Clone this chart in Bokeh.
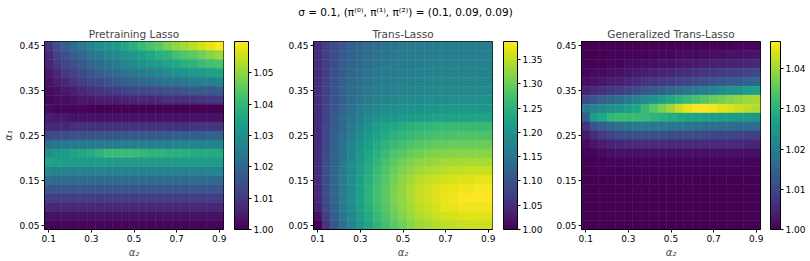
from bokeh.plotting import figure
from bokeh.layouts import row, column
from bokeh.models import (ColumnDataSource, LinearColorMapper, ColorBar, FixedTicker,
                          PrintfTickFormatter, Label)
from bokeh.transform import transform
from bokeh.palettes import Viridis256
from bokeh.embed import file_html
from bokeh.resources import INLINE

FONT = "DejaVu Sans"

# ---------------- data ----------------
ALPHA2 = [0.10, 0.14, 0.18, 0.22, 0.26, 0.30, 0.34, 0.38, 0.42, 0.46, 0.50,
          0.54, 0.58, 0.62, 0.66, 0.70, 0.74, 0.78, 0.82, 0.86, 0.90]
# rows listed from top (alpha1 = 0.45) to bottom (alpha1 = 0.05)
ALPHA1 = [0.45, 0.43, 0.41, 0.39, 0.37, 0.35, 0.33, 0.31, 0.29, 0.27, 0.25,
          0.23, 0.21, 0.19, 0.17, 0.15, 0.13, 0.11, 0.09, 0.07, 0.05]

XTICKS = [0.1, 0.3, 0.5, 0.7, 0.9]
XTICK_LABELS = ["0.1", "0.3", "0.5", "0.7", "0.9"]
YTICKS = [0.05, 0.15, 0.25, 0.35, 0.45]
YTICK_LABELS = ["0.05", "0.15", "0.25", "0.35", "0.45"]

SUPTITLE = "σ = 0.1, (π⁽⁰⁾, π⁽¹⁾, π⁽²⁾) = (0.1, 0.09, 0.09)"
TITLES = ["Pretraining Lasso", "Trans-Lasso", "Generalized Trans-Lasso"]
XLABEL = "α₂"
YLABEL = "α₁"

PRETRAIN = [
    [1.009, 1.015, 1.018, 1.021, 1.024, 1.027, 1.030, 1.031, 1.033, 1.036, 1.038, 1.041, 1.043, 1.045, 1.048, 1.050, 1.052, 1.054, 1.056, 1.058, 1.060],
    [1.007, 1.012, 1.015, 1.018, 1.020, 1.023, 1.025, 1.027, 1.029, 1.030, 1.032, 1.034, 1.036, 1.038, 1.039, 1.042, 1.044, 1.045, 1.047, 1.049, 1.051],
    [1.006, 1.010, 1.013, 1.015, 1.017, 1.020, 1.021, 1.023, 1.025, 1.027, 1.029, 1.030, 1.032, 1.033, 1.035, 1.036, 1.038, 1.039, 1.041, 1.042, 1.043],
    [1.004, 1.007, 1.010, 1.012, 1.014, 1.016, 1.018, 1.020, 1.021, 1.023, 1.024, 1.025, 1.026, 1.027, 1.029, 1.030, 1.031, 1.032, 1.033, 1.034, 1.035],
    [1.003, 1.005, 1.007, 1.009, 1.011, 1.013, 1.014, 1.015, 1.017, 1.018, 1.019, 1.020, 1.021, 1.022, 1.023, 1.023, 1.024, 1.025, 1.026, 1.026, 1.027],
    [1.002, 1.003, 1.004, 1.005, 1.007, 1.008, 1.009, 1.010, 1.011, 1.012, 1.013, 1.013, 1.014, 1.014, 1.015, 1.015, 1.016, 1.017, 1.017, 1.017, 1.018],
    [1.001, 1.002, 1.002, 1.003, 1.004, 1.004, 1.005, 1.005, 1.005, 1.006, 1.007, 1.007, 1.007, 1.007, 1.008, 1.008, 1.008, 1.008, 1.009, 1.009, 1.010],
    [1.002, 1.001, 1.001, 1.001, 1.001, 1.000, 1.000, 1.000, 1.000, 1.000, 1.000, 1.000, 1.000, 1.000, 1.000, 1.000, 1.000, 1.000, 1.000, 1.000, 1.000],
    [1.005, 1.004, 1.004, 1.003, 1.003, 1.003, 1.003, 1.003, 1.003, 1.003, 1.003, 1.003, 1.003, 1.003, 1.003, 1.003, 1.003, 1.003, 1.003, 1.003, 1.003],
    [1.007, 1.007, 1.007, 1.008, 1.008, 1.008, 1.008, 1.008, 1.008, 1.008, 1.008, 1.008, 1.008, 1.008, 1.008, 1.008, 1.008, 1.009, 1.009, 1.009, 1.009],
    [1.013, 1.014, 1.014, 1.015, 1.015, 1.015, 1.016, 1.016, 1.016, 1.016, 1.017, 1.017, 1.017, 1.017, 1.017, 1.018, 1.018, 1.018, 1.018, 1.019, 1.019],
    [1.022, 1.023, 1.024, 1.024, 1.025, 1.025, 1.025, 1.025, 1.025, 1.026, 1.026, 1.026, 1.026, 1.026, 1.026, 1.027, 1.027, 1.027, 1.027, 1.027, 1.027],
    [1.030, 1.032, 1.033, 1.035, 1.036, 1.037, 1.039, 1.041, 1.041, 1.041, 1.041, 1.040, 1.039, 1.039, 1.038, 1.038, 1.038, 1.037, 1.037, 1.037, 1.037],
    [1.035, 1.034, 1.033, 1.033, 1.033, 1.033, 1.033, 1.033, 1.033, 1.033, 1.033, 1.033, 1.033, 1.033, 1.033, 1.033, 1.033, 1.033, 1.033, 1.033, 1.033],
    [1.028, 1.027, 1.027, 1.027, 1.027, 1.027, 1.027, 1.027, 1.027, 1.027, 1.027, 1.027, 1.027, 1.027, 1.027, 1.027, 1.027, 1.027, 1.027, 1.027, 1.027],
    [1.022, 1.021, 1.021, 1.021, 1.021, 1.021, 1.021, 1.021, 1.021, 1.021, 1.021, 1.021, 1.021, 1.021, 1.021, 1.021, 1.021, 1.021, 1.021, 1.021, 1.021],
    [1.016, 1.016, 1.016, 1.016, 1.016, 1.016, 1.016, 1.016, 1.016, 1.016, 1.016, 1.016, 1.016, 1.016, 1.016, 1.016, 1.016, 1.016, 1.016, 1.016, 1.016],
    [1.011, 1.011, 1.011, 1.011, 1.011, 1.011, 1.011, 1.011, 1.011, 1.011, 1.011, 1.011, 1.011, 1.011, 1.011, 1.011, 1.011, 1.011, 1.011, 1.011, 1.011],
    [1.007, 1.007, 1.007, 1.007, 1.007, 1.007, 1.007, 1.007, 1.007, 1.007, 1.007, 1.007, 1.007, 1.007, 1.007, 1.007, 1.007, 1.007, 1.007, 1.007, 1.007],
    [1.003, 1.003, 1.003, 1.003, 1.003, 1.003, 1.003, 1.003, 1.003, 1.003, 1.003, 1.003, 1.003, 1.003, 1.003, 1.003, 1.003, 1.003, 1.003, 1.003, 1.003],
    [1.001, 1.001, 1.001, 1.001, 1.001, 1.001, 1.001, 1.001, 1.001, 1.001, 1.001, 1.001, 1.001, 1.001, 1.001, 1.001, 1.001, 1.001, 1.001, 1.001, 1.001],
]

TRANS = [
    [1.050, 1.070, 1.089, 1.104, 1.116, 1.128, 1.135, 1.143, 1.147, 1.151, 1.155, 1.155, 1.159, 1.159, 1.163, 1.163, 1.163, 1.163, 1.163, 1.163, 1.163],
    [1.050, 1.074, 1.093, 1.108, 1.120, 1.132, 1.139, 1.147, 1.151, 1.155, 1.159, 1.159, 1.163, 1.163, 1.166, 1.166, 1.166, 1.166, 1.166, 1.166, 1.166],
    [1.050, 1.074, 1.093, 1.112, 1.124, 1.135, 1.143, 1.151, 1.155, 1.159, 1.163, 1.163, 1.166, 1.166, 1.170, 1.170, 1.170, 1.170, 1.170, 1.170, 1.170],
    [1.050, 1.074, 1.097, 1.112, 1.128, 1.139, 1.147, 1.155, 1.159, 1.163, 1.166, 1.166, 1.170, 1.170, 1.174, 1.174, 1.174, 1.174, 1.174, 1.174, 1.174],
    [1.050, 1.077, 1.097, 1.116, 1.132, 1.143, 1.151, 1.159, 1.163, 1.166, 1.170, 1.170, 1.174, 1.174, 1.178, 1.178, 1.178, 1.178, 1.178, 1.178, 1.178],
    [1.050, 1.077, 1.101, 1.120, 1.135, 1.147, 1.155, 1.163, 1.166, 1.170, 1.174, 1.178, 1.178, 1.182, 1.182, 1.182, 1.182, 1.182, 1.182, 1.182, 1.182],
    [1.050, 1.077, 1.101, 1.120, 1.139, 1.151, 1.163, 1.170, 1.174, 1.178, 1.182, 1.186, 1.186, 1.190, 1.190, 1.190, 1.194, 1.194, 1.194, 1.194, 1.194],
    [1.050, 1.081, 1.104, 1.124, 1.143, 1.159, 1.170, 1.178, 1.186, 1.190, 1.194, 1.197, 1.197, 1.201, 1.201, 1.201, 1.205, 1.205, 1.205, 1.205, 1.205],
    [1.050, 1.081, 1.108, 1.132, 1.151, 1.166, 1.182, 1.194, 1.201, 1.205, 1.209, 1.213, 1.217, 1.217, 1.221, 1.221, 1.221, 1.224, 1.224, 1.224, 1.224],
    [1.050, 1.085, 1.112, 1.135, 1.159, 1.178, 1.197, 1.213, 1.224, 1.232, 1.240, 1.248, 1.252, 1.255, 1.259, 1.259, 1.263, 1.263, 1.263, 1.263, 1.263],
    [1.050, 1.085, 1.116, 1.143, 1.166, 1.190, 1.209, 1.224, 1.236, 1.248, 1.255, 1.263, 1.267, 1.271, 1.275, 1.275, 1.279, 1.279, 1.279, 1.279, 1.279],
    [1.050, 1.089, 1.120, 1.147, 1.174, 1.197, 1.217, 1.236, 1.252, 1.263, 1.271, 1.279, 1.286, 1.290, 1.294, 1.294, 1.298, 1.298, 1.298, 1.298, 1.298],
    [1.050, 1.089, 1.124, 1.151, 1.178, 1.205, 1.228, 1.248, 1.263, 1.279, 1.286, 1.298, 1.302, 1.310, 1.313, 1.313, 1.317, 1.317, 1.317, 1.317, 1.317],
    [1.050, 1.093, 1.124, 1.155, 1.182, 1.209, 1.236, 1.255, 1.275, 1.290, 1.302, 1.313, 1.321, 1.325, 1.329, 1.333, 1.333, 1.337, 1.337, 1.337, 1.337],
    [1.050, 1.093, 1.128, 1.159, 1.186, 1.213, 1.240, 1.263, 1.283, 1.298, 1.313, 1.325, 1.333, 1.341, 1.344, 1.348, 1.352, 1.352, 1.356, 1.356, 1.356],
    [1.050, 1.093, 1.128, 1.159, 1.190, 1.217, 1.244, 1.267, 1.286, 1.306, 1.321, 1.333, 1.344, 1.352, 1.356, 1.360, 1.364, 1.368, 1.368, 1.372, 1.372],
    [1.046, 1.093, 1.128, 1.163, 1.190, 1.221, 1.248, 1.271, 1.290, 1.310, 1.325, 1.341, 1.352, 1.360, 1.368, 1.372, 1.375, 1.379, 1.379, 1.383, 1.383],
    [1.046, 1.089, 1.128, 1.163, 1.190, 1.221, 1.248, 1.271, 1.290, 1.310, 1.325, 1.341, 1.352, 1.360, 1.368, 1.375, 1.379, 1.383, 1.387, 1.387, 1.387],
    [1.039, 1.085, 1.124, 1.159, 1.186, 1.217, 1.244, 1.267, 1.286, 1.306, 1.321, 1.337, 1.348, 1.356, 1.364, 1.372, 1.375, 1.379, 1.379, 1.379, 1.379],
    [1.019, 1.074, 1.116, 1.151, 1.182, 1.209, 1.236, 1.259, 1.279, 1.298, 1.313, 1.329, 1.341, 1.348, 1.356, 1.360, 1.364, 1.368, 1.368, 1.368, 1.368],
    [1.000, 1.058, 1.104, 1.143, 1.174, 1.201, 1.228, 1.252, 1.271, 1.286, 1.302, 1.317, 1.329, 1.337, 1.344, 1.348, 1.352, 1.352, 1.356, 1.356, 1.356],
]

GENTRANS = [
    [1.0000, 1.0000, 1.0000, 1.0000, 1.0000, 1.0000, 1.0000, 1.0000, 1.0000, 1.0000, 1.0000, 1.0000, 1.0000, 1.0005, 1.0005, 1.0005, 1.0005, 1.0005, 1.0009, 1.0009, 1.0009],
    [1.0000, 1.0000, 1.0000, 1.0005, 1.0005, 1.0005, 1.0005, 1.0005, 1.0009, 1.0009, 1.0009, 1.0014, 1.0014, 1.0014, 1.0019, 1.0019, 1.0019, 1.0023, 1.0023, 1.0023, 1.0028],
    [1.0005, 1.0005, 1.0005, 1.0009, 1.0009, 1.0014, 1.0014, 1.0019, 1.0019, 1.0023, 1.0023, 1.0028, 1.0033, 1.0033, 1.0037, 1.0042, 1.0042, 1.0047, 1.0047, 1.0051, 1.0056],
    [1.0009, 1.0014, 1.0014, 1.0019, 1.0023, 1.0028, 1.0033, 1.0037, 1.0042, 1.0047, 1.0051, 1.0056, 1.0061, 1.0066, 1.0070, 1.0075, 1.0080, 1.0084, 1.0089, 1.0094, 1.0103],
    [1.0019, 1.0023, 1.0028, 1.0037, 1.0042, 1.0051, 1.0056, 1.0066, 1.0070, 1.0080, 1.0084, 1.0094, 1.0098, 1.0108, 1.0112, 1.0117, 1.0126, 1.0131, 1.0136, 1.0145, 1.0154],
    [1.0047, 1.0056, 1.0066, 1.0075, 1.0084, 1.0098, 1.0108, 1.0122, 1.0131, 1.0145, 1.0154, 1.0168, 1.0178, 1.0192, 1.0201, 1.0211, 1.0225, 1.0234, 1.0243, 1.0257, 1.0267],
    [1.0103, 1.0126, 1.0145, 1.0159, 1.0173, 1.0187, 1.0206, 1.0220, 1.0239, 1.0257, 1.0281, 1.0300, 1.0318, 1.0332, 1.0346, 1.0360, 1.0370, 1.0379, 1.0388, 1.0398, 1.0407],
    [1.0192, 1.0206, 1.0220, 1.0234, 1.0248, 1.0262, 1.0281, 1.0318, 1.0346, 1.0374, 1.0402, 1.0431, 1.0454, 1.0468, 1.0468, 1.0459, 1.0449, 1.0440, 1.0431, 1.0421, 1.0412],
    [1.0140, 1.0257, 1.0281, 1.0309, 1.0318, 1.0318, 1.0318, 1.0314, 1.0304, 1.0295, 1.0290, 1.0281, 1.0276, 1.0271, 1.0267, 1.0262, 1.0257, 1.0257, 1.0253, 1.0253, 1.0248],
    [1.0066, 1.0117, 1.0140, 1.0159, 1.0173, 1.0183, 1.0187, 1.0187, 1.0187, 1.0187, 1.0183, 1.0183, 1.0178, 1.0178, 1.0173, 1.0173, 1.0168, 1.0168, 1.0164, 1.0164, 1.0164],
    [1.0033, 1.0056, 1.0080, 1.0094, 1.0103, 1.0112, 1.0112, 1.0112, 1.0112, 1.0112, 1.0108, 1.0108, 1.0108, 1.0103, 1.0103, 1.0098, 1.0098, 1.0094, 1.0094, 1.0089, 1.0089],
    [1.0014, 1.0028, 1.0037, 1.0047, 1.0051, 1.0056, 1.0056, 1.0056, 1.0056, 1.0056, 1.0056, 1.0056, 1.0056, 1.0056, 1.0056, 1.0056, 1.0056, 1.0056, 1.0056, 1.0051, 1.0051],
    [1.0005, 1.0009, 1.0014, 1.0019, 1.0023, 1.0023, 1.0023, 1.0023, 1.0023, 1.0023, 1.0023, 1.0023, 1.0023, 1.0023, 1.0023, 1.0023, 1.0023, 1.0023, 1.0019, 1.0019, 1.0019],
    [1.0000, 1.0005, 1.0005, 1.0009, 1.0009, 1.0009, 1.0009, 1.0009, 1.0009, 1.0009, 1.0009, 1.0009, 1.0009, 1.0009, 1.0009, 1.0009, 1.0009, 1.0009, 1.0009, 1.0009, 1.0009],
    [1.0000, 1.0000, 1.0005, 1.0005, 1.0005, 1.0005, 1.0005, 1.0005, 1.0005, 1.0005, 1.0005, 1.0005, 1.0005, 1.0005, 1.0005, 1.0005, 1.0005, 1.0005, 1.0005, 1.0005, 1.0005],
    [1.0000, 1.0000, 1.0000, 1.0000, 1.0000, 1.0000, 1.0000, 1.0000, 1.0000, 1.0000, 1.0000, 1.0000, 1.0000, 1.0000, 1.0000, 1.0000, 1.0000, 1.0000, 1.0000, 1.0000, 1.0000],
    [1.0000, 1.0000, 1.0000, 1.0000, 1.0000, 1.0000, 1.0000, 1.0000, 1.0000, 1.0000, 1.0000, 1.0000, 1.0000, 1.0000, 1.0000, 1.0000, 1.0000, 1.0000, 1.0000, 1.0000, 1.0000],
    [1.0000, 1.0000, 1.0000, 1.0000, 1.0000, 1.0000, 1.0000, 1.0000, 1.0000, 1.0000, 1.0000, 1.0000, 1.0000, 1.0000, 1.0000, 1.0000, 1.0000, 1.0000, 1.0000, 1.0000, 1.0000],
    [1.0000, 1.0000, 1.0000, 1.0000, 1.0000, 1.0000, 1.0000, 1.0000, 1.0000, 1.0000, 1.0000, 1.0000, 1.0000, 1.0000, 1.0000, 1.0000, 1.0000, 1.0000, 1.0000, 1.0000, 1.0000],
    [1.0000, 1.0000, 1.0000, 1.0000, 1.0000, 1.0000, 1.0000, 1.0000, 1.0000, 1.0000, 1.0000, 1.0000, 1.0000, 1.0000, 1.0000, 1.0000, 1.0000, 1.0000, 1.0000, 1.0000, 1.0000],
    [1.0000, 1.0000, 1.0000, 1.0000, 1.0000, 1.0000, 1.0000, 1.0000, 1.0000, 1.0000, 1.0000, 1.0000, 1.0000, 1.0000, 1.0000, 1.0000, 1.0000, 1.0000, 1.0000, 1.0000, 1.0000],
]

CB_TICKS = [
    [1.00, 1.01, 1.02, 1.03, 1.04, 1.05],
    [1.00, 1.05, 1.10, 1.15, 1.20, 1.25, 1.30, 1.35],
    [1.00, 1.01, 1.02, 1.03, 1.04],
]

# ---------------- layout constants ----------------
FW, FH = 179, 188
CELL_W, CELL_H = 0.04, 0.02


def make_panel(title, grid, cb_ticks, show_ylabel, left, right, cb_width, cb_gap):
    xs, ys, vs = [], [], []
    for i, a1 in enumerate(ALPHA1):
        for j, a2 in enumerate(ALPHA2):
            xs.append(a2)
            ys.append(a1)
            vs.append(grid[i][j])
    src = ColumnDataSource(dict(x=xs, y=ys, v=vs))
    mapper = LinearColorMapper(palette=Viridis256, low=min(vs), high=max(vs))

    p = figure(frame_width=FW, frame_height=FH,
               x_range=(ALPHA2[0] - CELL_W / 2, ALPHA2[-1] + CELL_W / 2),
               y_range=(ALPHA1[-1] - CELL_H / 2, ALPHA1[0] + CELL_H / 2),
               output_backend="svg", toolbar_location=None, tools="",
               min_border_left=left, min_border_right=right,
               min_border_top=17, min_border_bottom=0)
    p.rect(x="x", y="y", width=CELL_W, height=CELL_H, source=src,
           fill_color=transform("v", mapper), line_color=transform("v", mapper),
           line_width=0.5)

    p.title.text = title
    p.title.align = "center"
    p.title.text_font = FONT
    p.title.text_font_size = "10.5px"
    p.title.text_font_style = "normal"
    p.title.standoff = 3

    p.grid.visible = False
    p.outline_line_color = "black"
    p.outline_line_width = 1

    for ax in (p.xaxis[0], p.yaxis[0]):
        ax.major_tick_out = 3
        ax.major_tick_in = 0
        ax.minor_tick_line_color = None
        ax.major_tick_line_color = "black"
        ax.axis_line_color = "black"
        ax.major_label_text_font = FONT
        ax.major_label_text_font_size = "9px"
        ax.major_label_text_color = "black"
        ax.major_label_standoff = 2
        ax.axis_label_text_font = FONT
        ax.axis_label_text_font_size = "10px"
        ax.axis_label_text_font_style = "italic"
        ax.axis_label_standoff = 2

    p.xaxis.ticker = FixedTicker(ticks=XTICKS)
    p.xaxis.major_label_overrides = dict(zip(XTICKS, XTICK_LABELS))
    p.xaxis.formatter = PrintfTickFormatter(format="%.1f")
    p.yaxis.ticker = FixedTicker(ticks=YTICKS)
    p.yaxis.major_label_overrides = dict(zip(YTICKS, YTICK_LABELS))
    p.yaxis.formatter = PrintfTickFormatter(format="%.2f")
    p.xaxis.axis_label = XLABEL
    if show_ylabel:
        p.yaxis.axis_label = YLABEL

    cb = ColorBar(color_mapper=mapper, ticker=FixedTicker(ticks=cb_ticks),
                  formatter=PrintfTickFormatter(format="%.2f"),
                  width=cb_width, height=FH, padding=0, margin=0,
                  location=(cb_gap, 0),
                  major_tick_in=0, major_tick_out=3,
                  major_tick_line_color="black",
                  minor_tick_line_color=None,
                  bar_line_color="black", bar_line_width=1,
                  border_line_color=None, background_fill_alpha=0,
                  label_standoff=2,
                  major_label_text_font=FONT,
                  major_label_text_font_size="9px",
                  major_label_text_color="black")
    p.add_layout(cb, "right")
    return p


p1 = make_panel(TITLES[0], PRETRAIN, CB_TICKS[0], True, 42, 59, 14, 11)
p2 = make_panel(TITLES[1], TRANS, CB_TICKS[1], False, 31, 60, 14, 11)
p3 = make_panel(TITLES[2], GENTRANS, CB_TICKS[2], False, 29, 50, 10, 10)

TOTAL_W = 280 + 270 + 259
head = figure(width=TOTAL_W, height=24, x_range=(0, TOTAL_W), y_range=(0, 24),
              output_backend="svg", toolbar_location=None, tools="",
              min_border=0)
head.axis.visible = False
head.grid.visible = False
head.outline_line_color = None
head.add_layout(Label(x=405, y=12.5, text=SUPTITLE, text_align="center",
                      text_baseline="middle", text_font=FONT,
                      text_font_size="10.5px", text_color="black"))

layout = column(head, row(p1, p2, p3, spacing=0), spacing=0)
open("out.html", "w").write(file_html(layout, INLINE))
